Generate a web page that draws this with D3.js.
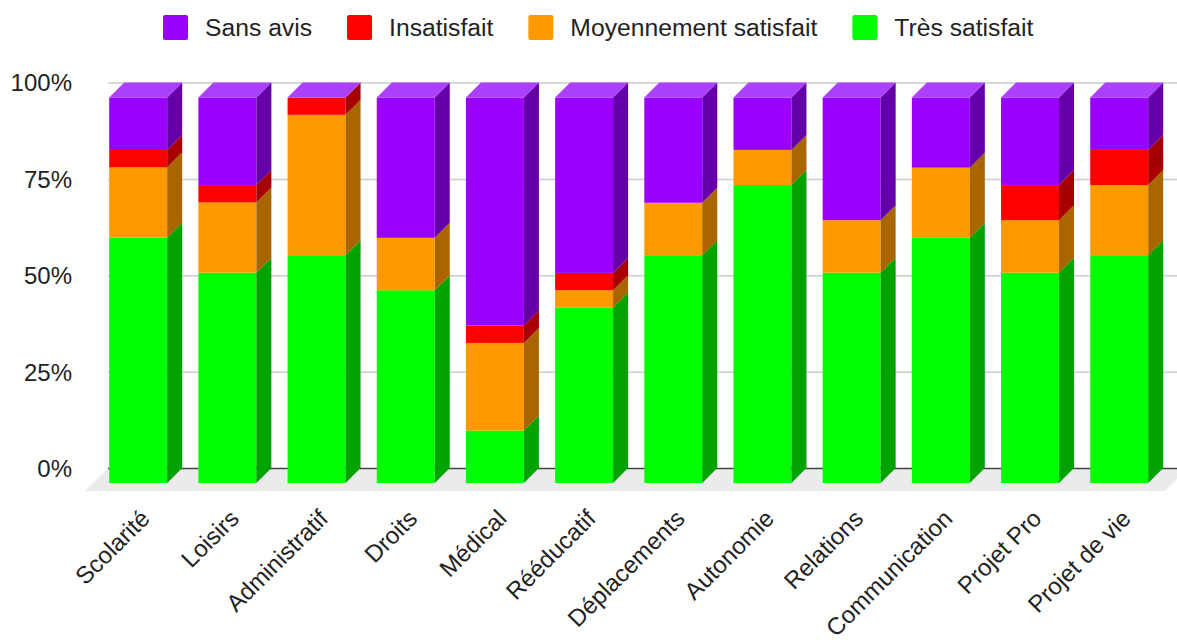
<!DOCTYPE html>
<html>
<head>
<meta charset="utf-8">
<script src="https://cdn.jsdelivr.net/npm/d3@7"></script>
<style>
  html, body { margin: 0; padding: 0; background: #fff; }
  svg { display: block; font-family: "Liberation Sans", Arial, sans-serif; }
</style>
</head>
<body>
<svg id="chart" width="1177" height="640"></svg>
<script>
// Satisfaction par domaine (22 réponses), parts en %
const categories = ["Scolarité", "Loisirs", "Administratif", "Droits", "Médical", "Rééducatif",
  "Déplacements", "Autonomie", "Relations", "Communication", "Projet Pro", "Projet de vie"];

const tresSatisfait = [63.6, 54.5, 59.1, 50.0, 13.6, 45.5, 59.1, 77.3, 54.5, 63.6, 54.5, 59.1];
const moyennementSatisfait = [18.2, 18.2, 36.4, 13.6, 22.7, 4.5, 13.6, 9.1, 13.6, 18.2, 13.6, 18.2];
const insatisfait = [4.5, 4.5, 4.5, 0, 4.5, 4.5, 0, 0, 0, 0, 9.1, 9.1];
const sansAvis = [13.6, 22.7, 0, 36.4, 59.1, 45.5, 27.3, 13.6, 31.8, 18.2, 22.7, 13.6];

// stacking order, bottom to top
const seriesKeys = ["Très satisfait", "Moyennement satisfait", "Insatisfait", "Sans avis"];
const seriesValues = [tresSatisfait, moyennementSatisfait, insatisfait, sansAvis];
// legend order, left to right
const legendKeys = ["Sans avis", "Insatisfait", "Moyennement satisfait", "Très satisfait"];

const yTickValues = [0, 0.25, 0.5, 0.75, 1];
const yTickLabels = ["0%", "25%", "50%", "75%", "100%"];

const frontColor = { "Très satisfait": "#00ff00", "Moyennement satisfait": "#ff9900", "Insatisfait": "#ff0000", "Sans avis": "#9900ff" };
const sideColor  = { "Très satisfait": "#00a300", "Moyennement satisfait": "#a86500", "Insatisfait": "#a80000", "Sans avis": "#6500a8" };
const topColor   = { "Très satisfait": "#55ff55", "Moyennement satisfait": "#ffb84d", "Insatisfait": "#ff5050", "Sans avis": "#ac40ff" };

const rows = categories.map((c, i) => {
  const r = { category: c };
  seriesKeys.forEach((k, j) => r[k] = seriesValues[j][i]);
  return r;
});

const stacked = d3.stack().keys(seriesKeys).offset(d3.stackOffsetExpand)(rows);

const svg = d3.select("#chart");
const DEPTH = 15;          // 3D extrusion of the bars
const FLOOR_DEPTH = 23;    // depth of the grey floor

// scales live on the back wall; bar fronts are shifted by (-DEPTH, +DEPTH)
const x = d3.scaleBand().domain(categories).range([108.6, 1178.8]).paddingInner(0.35).paddingOuter(0.175);
const y = d3.scaleLinear().domain([0, 1]).range([468, 82.5]);

// floor
const floorX0 = 108, floorX1 = 1188, yBase = y(0);
svg.append("polygon")
  .attr("points", [[floorX0, yBase], [floorX1, yBase], [floorX1 - FLOOR_DEPTH, yBase + FLOOR_DEPTH], [floorX0 - FLOOR_DEPTH, yBase + FLOOR_DEPTH]].map(p => p.join(",")).join(" "))
  .attr("fill", "#ebebeb");

// gridlines on the back wall
const yAxis = d3.axisLeft(y).tickValues(yTickValues).tickSize(-(1177 - 108)).tickFormat((d, i) => yTickLabels[i]);
const gAxis = svg.append("g").attr("transform", "translate(108,0)").call(yAxis);
gAxis.select(".domain").remove();
gAxis.selectAll(".tick line").attr("stroke", "#cccccc").attr("stroke-width", 1.5);
gAxis.selectAll(".tick line").filter(d => d === 0).attr("stroke", "#444").attr("stroke-width", 1.5);
gAxis.selectAll(".tick text")
  .attr("x", -36).attr("dy", "0.35em")
  .attr("font-size", 24).attr("fill", "#222")
  .attr("font-family", "Liberation Sans, Arial, sans-serif");

// bars
const w = x.bandwidth();
const bars = svg.append("g");
categories.forEach((cat, i) => {
  const fx = x(cat) - DEPTH;
  const g = bars.append("g");
  stacked.forEach((layer, li) => {
    const key = layer.key;
    const v0 = layer[i][0], v1 = layer[i][1];
    const Y0 = y(v0) + DEPTH, Y1 = y(v1) + DEPTH;
    if (Y0 - Y1 > 0.01) {
      g.append("rect")
        .attr("x", fx).attr("y", Y1).attr("width", w).attr("height", Y0 - Y1)
        .attr("fill", frontColor[key]);
      g.append("polygon")
        .attr("points", [[fx + w, Y1], [fx + w + DEPTH, Y1 - DEPTH], [fx + w + DEPTH, Y0 - DEPTH], [fx + w, Y0]].map(p => p.join(",")).join(" "))
        .attr("fill", sideColor[key]);
    }
    if (li === stacked.length - 1) {
      g.append("polygon")
        .attr("points", [[fx, Y1], [fx + DEPTH, Y1 - DEPTH], [fx + w + DEPTH, Y1 - DEPTH], [fx + w, Y1]].map(p => p.join(",")).join(" "))
        .attr("fill", topColor[key]);
    }
  });
});

// category labels, rotated
const xLabels = svg.append("g");
categories.forEach(cat => {
  const ax = x(cat) - DEPTH + w / 2 + 13;
  const ay = 520;
  xLabels.append("text")
    .attr("transform", `translate(${ax},${ay}) rotate(-45)`)
    .attr("text-anchor", "end")
    .attr("font-size", 24).attr("fill", "#222")
    .text(cat);
});

// legend
const legend = svg.append("g");
let lx = 163;
legendKeys.forEach(key => {
  legend.append("rect")
    .attr("x", lx).attr("y", 15).attr("width", 25).attr("height", 25).attr("rx", 2)
    .attr("fill", frontColor[key]);
  const t = legend.append("text")
    .attr("x", lx + 42).attr("y", 36)
    .attr("font-size", 24.7).attr("fill", "#222")
    .text(key);
  lx += 42 + t.node().getComputedTextLength() + 35;
});
</script>
</body>
</html>
